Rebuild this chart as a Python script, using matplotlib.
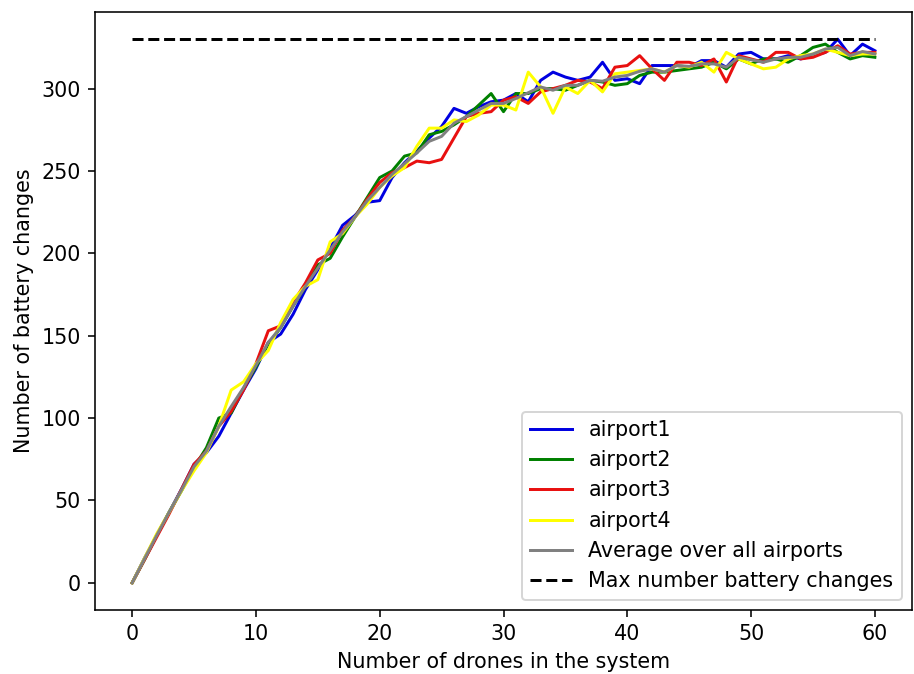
import matplotlib
matplotlib.use("Agg")
import matplotlib.pyplot as plt
import numpy as np

plt.rcParams['font.size'] = 10.4

drones = list(range(0, 61))

airport1 = [0, 15, 29, 43, 57, 72, 79, 89, 103, 117, 130, 146, 151, 163, 178, 190, 203, 217, 223, 231,
            232, 246, 255, 262, 270, 277, 288, 285, 289, 292, 293, 297, 292, 305, 310, 307, 305, 307, 316, 305,
            306, 303, 314, 314, 314, 313, 317, 317, 313, 321, 322, 318, 318, 320, 318, 320, 322, 330, 320, 327, 323]
airport2 = [0, 14, 29, 43, 56, 70, 82, 100, 103, 118, 131, 145, 155, 168, 180, 193, 197, 210, 222, 234,
            246, 250, 259, 261, 272, 274, 278, 283, 290, 297, 286, 297, 297, 300, 300, 299, 302, 305, 304, 302,
            303, 308, 310, 310, 311, 312, 313, 316, 312, 318, 315, 318, 318, 316, 320, 325, 327, 322, 318, 320, 319]
airport3 = [0, 14, 28, 42, 57, 72, 80, 95, 104, 117, 133, 153, 156, 170, 182, 196, 200, 214, 222, 233,
            243, 249, 252, 256, 255, 257, 270, 283, 285, 286, 293, 295, 291, 298, 300, 302, 305, 304, 300, 313,
            314, 320, 312, 305, 316, 316, 314, 318, 304, 320, 318, 316, 322, 322, 318, 319, 322, 326, 321, 322, 322]
airport4 = [0, 15, 30, 43, 56, 68, 79, 95, 117, 122, 133, 141, 158, 172, 180, 184, 207, 212, 222, 230,
            240, 247, 252, 265, 276, 276, 281, 280, 284, 290, 290, 287, 310, 301, 285, 301, 297, 305, 298, 309,
            310, 311, 312, 310, 314, 313, 316, 310, 322, 318, 315, 312, 313, 318, 320, 321, 324, 322, 320, 321, 321]
average = [0, 14.5, 29, 43, 56.5, 70.5, 80, 95, 107, 118.5, 132, 146, 155, 168, 180, 191, 202, 213, 222, 232,
           240, 248, 254.5, 261, 268, 271, 279, 283, 287, 291, 291, 294, 297.5, 301, 299, 302, 302, 305, 304.5, 307,
           308, 310.5, 312, 310, 314, 313.5, 315, 315, 313, 319, 317.5, 316, 318, 319, 319, 321, 324, 325, 320, 322.5, 321]
max_changes = 330

fig = plt.figure(figsize=(914/143, 674/143), dpi=143)
ax = fig.add_axes([95/914, 1-610/674, (912-95)/914, (610-12)/674])

ax.plot(drones, airport1, color='#0000e0', label='airport1')
ax.plot(drones, airport2, color='green', label='airport2')
ax.plot(drones, airport3, color='#e81010', label='airport3')
ax.plot(drones, airport4, color='yellow', label='airport4')
ax.plot(drones, average, color='gray', label='Average over all airports')
ax.plot([drones[0], drones[-1]], [max_changes, max_changes], 'k--', label='Max number battery changes')

ax.set_xlabel('Number of drones in the system')
ax.set_ylabel('Number of battery changes')
ax.set_xticks([0, 10, 20, 30, 40, 50, 60])
ax.set_yticks([0, 50, 100, 150, 200, 250, 300])
ax.legend(loc='lower right')

fig.savefig('out.png', dpi=143)
